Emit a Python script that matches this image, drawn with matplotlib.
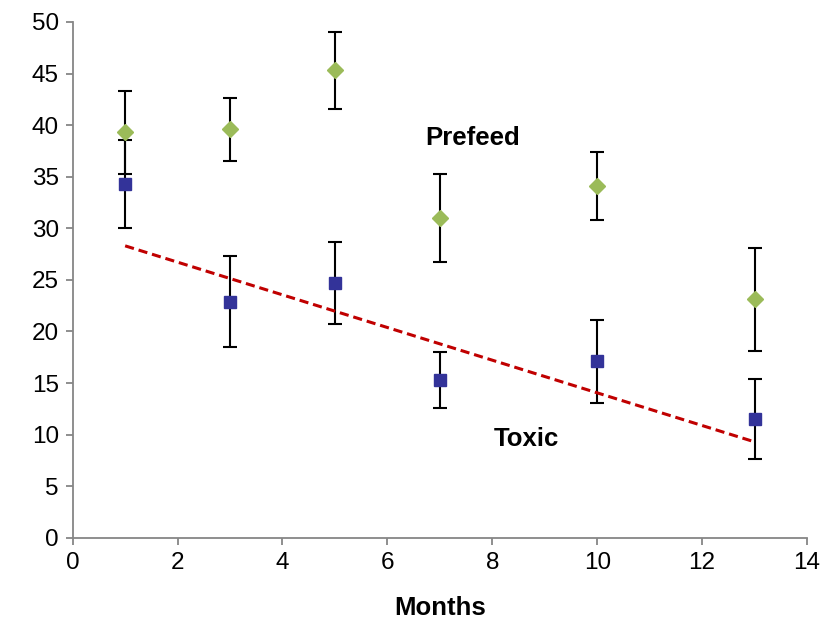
import matplotlib
matplotlib.use('Agg')
import matplotlib.pyplot as plt

plt.rcParams['font.family'] = ['Liberation Sans', 'DejaVu Sans']

# data
months = [1, 3, 5, 7, 10, 13]
prefeed = [39.3, 39.6, 45.3, 31.0, 34.1, 23.1]
prefeed_err = [4.0, 3.05, 3.7, 4.3, 3.3, 4.95]
toxic = [34.3, 22.9, 24.7, 15.3, 17.1, 11.5]
toxic_err = [4.3, 4.4, 4.0, 2.7, 4.0, 3.85]

# trend line on the toxic series (end points)
trend_x = [1, 13]
trend_y = [28.3, 9.3]

fig = plt.figure(figsize=(8.26, 6.21), dpi=100)
ax = fig.add_axes([0.088, 0.134, 0.889, 0.8306])

ax.errorbar(months, prefeed, yerr=prefeed_err, fmt='D', color='#9BBB59',
            markersize=8, ecolor='black', elinewidth=1.5, capsize=5, capthick=1.5)
ax.errorbar(months, toxic, yerr=toxic_err, fmt='s', color='#333399',
            markersize=9, ecolor='black', elinewidth=1.5, capsize=5, capthick=1.5)
ax.plot(trend_x, trend_y, color='#C00000', linestyle=(0, (3, 1.6)), linewidth=2.2)

ax.text(7.62, 38.8, 'Prefeed', fontsize=18.5, fontweight='bold', ha='center', va='center')
ax.text(8.65, 9.6, 'Toxic', fontsize=18.5, fontweight='bold', ha='center', va='center')

ax.set_xlim(0, 14)
ax.set_ylim(0, 50)
ax.set_xticks(range(0, 15, 2))
ax.set_yticks(range(0, 51, 5))
ax.set_xlabel('Months', fontsize=18.5, fontweight='bold', labelpad=16)

for s in ['top', 'right']:
    ax.spines[s].set_visible(False)
for s in ['left', 'bottom']:
    ax.spines[s].set_color('#868686')
    ax.spines[s].set_linewidth(1.3)
ax.tick_params(direction='out', length=5, width=1.3, color='#868686',
               labelsize=17.5, pad=5)

fig.savefig('out.png', dpi=100)
